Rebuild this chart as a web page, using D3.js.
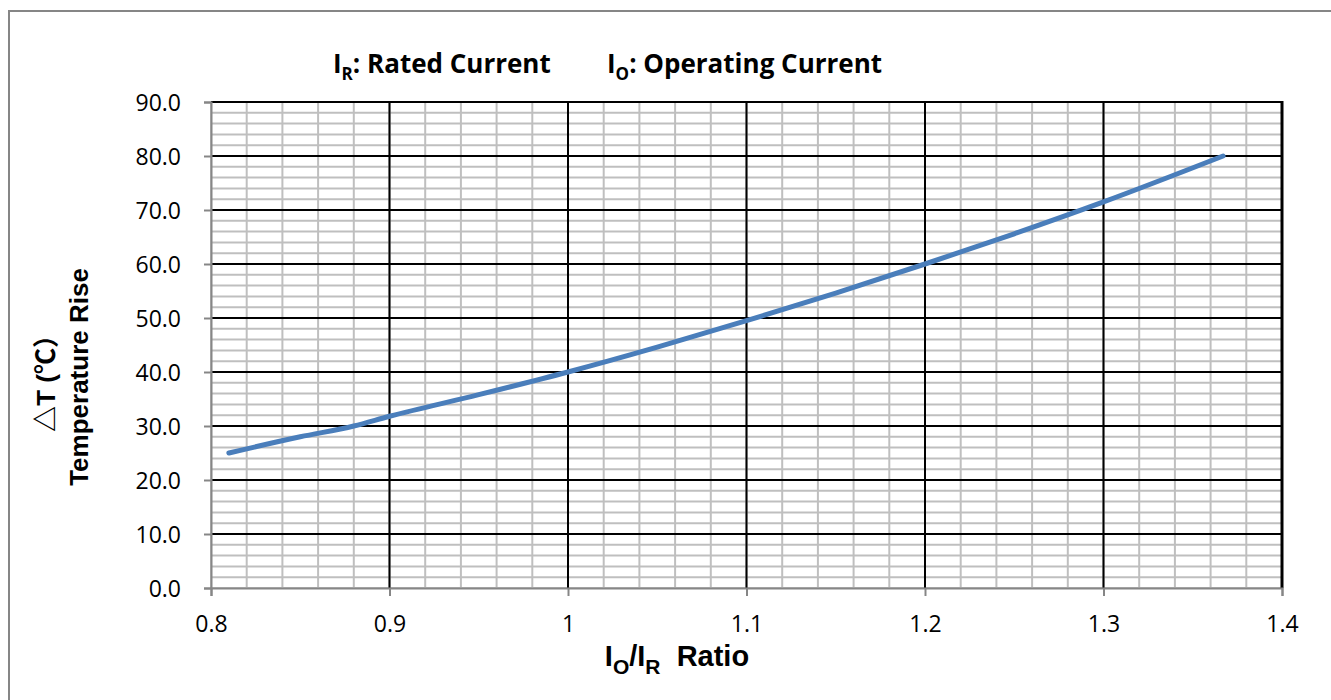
<!DOCTYPE html>
<html>
<head>
<meta charset="utf-8">
<script src="https://d3js.org/d3.v7.min.js"></script>
<style>
  body { margin: 0; background: #fff; }
</style>
</head>
<body>
<div id="chart"></div>
<script>
// Data
const ratio = [0.81, 0.85, 0.88, 0.9, 0.95, 1.0, 1.05, 1.1, 1.15, 1.2, 1.25, 1.3, 1.367]
const tempRise = [25, 28, 30, 31.8, 35.8, 40, 44.6, 49.5, 54.6, 60, 65.6, 71.5, 80]
const xTicks = [0.8, 0.9, 1.0, 1.1, 1.2, 1.3, 1.4]
const yTicks = [0, 10, 20, 30, 40, 50, 60, 70, 80, 90]

const width = 1331, height = 700
const plot = { left: 211, right: 1282, top: 102, bottom: 588 }

const svg = d3.select("#chart").append("svg")
  .attr("width", width)
  .attr("height", height)

// outer frame
svg.append("rect")
  .attr("x", 9).attr("y", 11)
  .attr("width", 1340).attr("height", 720)
  .attr("fill", "none").attr("stroke", "#868686").attr("stroke-width", 2)

const x = d3.scaleLinear().domain([0.8, 1.4]).range([plot.left, plot.right])
const y = d3.scaleLinear().domain([0, 90]).range([plot.bottom, plot.top])

// minor grid
const xMinor = d3.range(0, 31).map(i => 0.8 + i * 0.02)
const yMinor = d3.range(0, 46).map(i => i * 2)

const grid = svg.append("g")
grid.selectAll(".vminor").data(xMinor).join("line")
  .attr("x1", d => x(d)).attr("x2", d => x(d))
  .attr("y1", plot.top).attr("y2", plot.bottom)
  .attr("stroke", "#bfbfbf").attr("stroke-width", 2)
grid.selectAll(".hminor").data(yMinor).join("line")
  .attr("y1", d => y(d)).attr("y2", d => y(d))
  .attr("x1", plot.left).attr("x2", plot.right)
  .attr("stroke", "#bfbfbf").attr("stroke-width", 2)

// major grid
grid.selectAll(".vmajor").data(xTicks.slice(1)).join("line")
  .attr("x1", d => x(d)).attr("x2", d => x(d))
  .attr("y1", plot.top).attr("y2", plot.bottom)
  .attr("stroke", "#000").attr("stroke-width", 2)
grid.selectAll(".hmajor").data(yTicks.slice(1)).join("line")
  .attr("y1", d => y(d)).attr("y2", d => y(d))
  .attr("x1", plot.left).attr("x2", plot.right)
  .attr("stroke", "#000").attr("stroke-width", 2)
svg.append("line")
  .attr("x1", plot.right).attr("x2", plot.right)
  .attr("y1", plot.top - 1).attr("y2", plot.bottom)
  .attr("stroke", "#000").attr("stroke-width", 3)

// axes
const yAxis = svg.append("g")
  .attr("transform", `translate(${plot.left},0)`)
  .call(d3.axisLeft(y).tickValues(yTicks).tickFormat(d3.format(".1f")).tickSize(7).tickPadding(23))
const xAxis = svg.append("g")
  .attr("transform", `translate(0,${plot.bottom})`)
  .call(d3.axisBottom(x).tickValues(xTicks).tickFormat(d => d === 1 ? "1" : d3.format(".1f")(d)).tickSize(8).tickPadding(24))

;[xAxis, yAxis].forEach(a => {
  a.attr("font-size", null).attr("font-family", null)
  a.select(".domain").attr("stroke", "#868686").attr("stroke-width", 2)
  a.selectAll(".tick line").attr("stroke", "#868686").attr("stroke-width", 2)
  a.selectAll(".tick text")
    .style("font-family", "'Open Sans', 'Noto Sans', sans-serif")
    .style("font-size", "23px").attr("fill", "#000")
})
yAxis.selectAll(".tick text").attr("dy", "0.36em")
xAxis.selectAll(".tick text").attr("dy", "0.5em")

// curve
svg.append("path")
  .datum(ratio.map((r, i) => [r, tempRise[i]]))
  .attr("fill", "none")
  .attr("stroke", "#4a7ebb")
  .attr("stroke-width", 5)
  .attr("stroke-linecap", "round")
  .attr("d", d3.line().x(d => x(d[0])).y(d => y(d[1])).curve(d3.curveMonotoneX))

// title
const title = svg.append("text")
  .attr("y", 73)
  .style("font-family", "'Open Sans', 'Noto Sans', sans-serif")
  .style("font-weight", "bold").style("font-size", "26px")
  .attr("fill", "#000")
title.append("tspan").attr("x", 333).text("I")
title.append("tspan").attr("dy", 7).style("font-size", "17px").text("R")
title.append("tspan").attr("dy", -7).text(": Rated Current")
title.append("tspan").attr("x", 607).text("I")
title.append("tspan").attr("dy", 7).style("font-size", "17px").text("O")
title.append("tspan").attr("dy", -7).text(": Operating Current")

// x axis title
const xt = svg.append("text")
  .attr("x", 677).attr("y", 666)
  .attr("text-anchor", "middle")
  .style("font-family", "'Liberation Sans', Arial, sans-serif")
  .style("font-weight", "bold").style("font-size", "29px")
xt.append("tspan").text("I")
xt.append("tspan").attr("dy", 8).style("font-size", "21px").text("O")
xt.append("tspan").attr("dy", -8).text("/I")
xt.append("tspan").attr("dy", 8).style("font-size", "21px").text("R")
xt.append("tspan").attr("dy", -8).text("\u00a0 Ratio")

// y axis title
const yt = svg.append("g").attr("transform", "translate(0,377) rotate(-90)")
yt.append("text")
  .attr("x", 0).attr("y", 55)
  .attr("text-anchor", "middle")
  .style("font-family", "'Liberation Sans', 'Noto Sans CJK SC', sans-serif")
  .style("font-weight", "bold").style("font-size", "26px")
  .text("\u25b3T (\u2103\uff09")
yt.append("text")
  .attr("x", 0).attr("y", 88)
  .attr("text-anchor", "middle")
  .style("font-family", "'Liberation Sans', Arial, sans-serif")
  .style("font-weight", "bold").style("font-size", "26px")
  .text("Temperature Rise")
</script>
</body>
</html>
